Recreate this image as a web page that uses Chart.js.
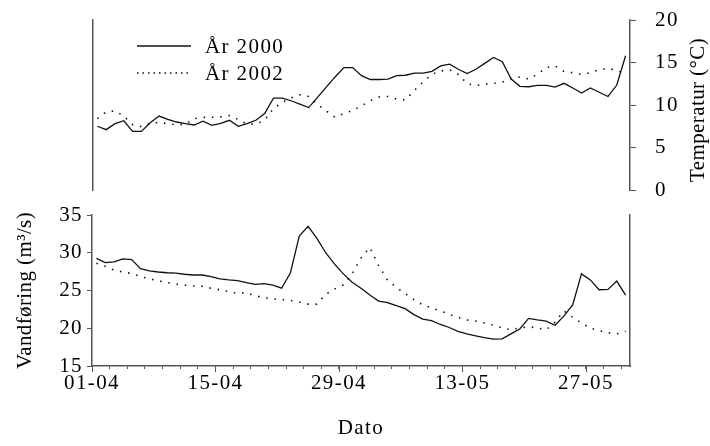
<!DOCTYPE html>
<html>
<head>
<meta charset="utf-8">
<script src="https://cdn.jsdelivr.net/npm/chart.js@4.4.1/dist/chart.umd.min.js"></script>
<style>
  html, body { margin: 0; padding: 0; background: #fff; }
  #wrap { position: relative; width: 710px; height: 446px; overflow: hidden; }
  canvas { position: absolute; left: 0; }
  #tempChart { top: 0; }
  #flowChart { top: 200px; }
</style>
</head>
<body>
<div id="wrap">
  <canvas id="tempChart" width="710" height="210"></canvas>
  <canvas id="flowChart" width="710" height="246"></canvas>
</div>
<script>
// Daily observations, 1 April - 31 May
const dates = [
  '01-04','02-04','03-04','04-04','05-04','06-04','07-04','08-04','09-04','10-04',
  '11-04','12-04','13-04','14-04','15-04','16-04','17-04','18-04','19-04','20-04',
  '21-04','22-04','23-04','24-04','25-04','26-04','27-04','28-04','29-04','30-04',
  '01-05','02-05','03-05','04-05','05-05','06-05','07-05','08-05','09-05','10-05',
  '11-05','12-05','13-05','14-05','15-05','16-05','17-05','18-05','19-05','20-05',
  '21-05','22-05','23-05','24-05','25-05','26-05','27-05','28-05','29-05','30-05','31-05'
];

// Water temperature (°C)
const temp2000 = [
  7.5, 7.1, 7.8, 8.15, 6.9, 6.9, 7.9, 8.7, 8.3, 8.0,
  7.8, 7.65, 8.1, 7.6, 7.85, 8.2, 7.5, 7.8, 8.2, 9.0,
  10.8, 10.8, 10.5, 10.1, 9.7, 10.9, 12.1, 13.3, 14.4, 14.4,
  13.45, 13.0, 13.0, 13.05, 13.45, 13.5, 13.75, 13.75, 13.95, 14.6,
  14.8, 14.2, 13.7, 14.2, 14.9, 15.6, 15.1, 13.05, 12.2, 12.15,
  12.3, 12.3, 12.1, 12.55, 12.0, 11.4, 12.0, 11.5, 11.0, 12.35, 15.8
];
const temp2002 = [
  8.4, 9.2, 9.3, 8.7, 7.7, 7.45, 7.85, 7.95, 7.8, 7.65,
  7.75, 8.4, 8.55, 8.55, 8.6, 8.75, 8.3, 7.75, 7.75, 8.2,
  9.6, 10.3, 10.85, 11.2, 11.0, 10.1, 9.3, 8.55, 9.0, 9.35,
  9.9, 10.5, 10.95, 11.0, 10.7, 10.6, 11.7, 12.7, 13.6, 14.0,
  14.15, 13.6, 12.5, 12.3, 12.45, 12.55, 12.7, 13.1, 13.3, 13.05,
  13.65, 14.4, 14.6, 13.95, 13.8, 13.6, 13.8, 14.15, 14.3, 14.1, 13.6
];

// Discharge (m³/s)
const flow2000 = [
  29.25, 28.7, 28.8, 29.2, 29.1, 27.9, 27.6, 27.45, 27.35, 27.3,
  27.15, 27.05, 27.05, 26.85, 26.55, 26.4, 26.3, 26.05, 25.8, 25.9,
  25.7, 25.3, 27.35, 32.2, 33.5, 31.9, 30.0, 28.5, 27.2, 26.1,
  25.3, 24.4, 23.6, 23.4, 23.0, 22.6, 21.8, 21.2, 21.0, 20.5,
  20.1, 19.6, 19.25, 19.0, 18.75, 18.55, 18.6, 19.25, 19.9, 21.3,
  21.1, 20.95, 20.4, 21.6, 23.1, 27.2, 26.4, 25.1, 25.15, 26.25, 24.4
];
const flow2002 = [
  28.6, 28.2, 27.7, 27.45, 27.25, 26.85, 26.55, 26.3, 26.05, 25.85,
  25.7, 25.6, 25.55, 25.3, 25.1, 24.85, 24.6, 24.7, 24.3, 24.05,
  23.9, 23.8, 23.7, 23.45, 23.2, 23.2, 24.5, 25.2, 25.75, 27.2,
  29.3, 30.7, 28.3, 26.4, 25.4, 24.6, 23.8, 23.1, 22.7, 22.3,
  21.85, 21.45, 21.1, 20.95, 20.7, 20.4, 20.05, 19.8, 20.05, 20.2,
  20.05, 19.8, 20.8, 22.3, 21.45, 20.7, 20.0, 19.7, 19.4, 19.25, 19.6
];

const seriesNames = ['År 2000', 'År 2002'];
const tickLabels = ['01-04', '15-04', '29-04', '13-05', '27-05'];
const tempRange = [0, 20, 5];
const flowRange = [15, 35, 5];

const SERIF = "'Liberation Serif', 'Times New Roman', serif";
const FONT_SIZE = 21;
const AXIS = '#555';
const INK = '#111';
const SPACING = '1.4px';

Chart.defaults.font.family = SERIF;
Chart.defaults.font.size = FONT_SIZE;
Chart.defaults.color = '#000';

// each day's mean is plotted at midday
const toPoints = vals => vals.map((v, i) => ({ x: i + 0.5, y: v }));
const dayMax = dates.length;

const solidStyle = { borderColor: INK, borderWidth: 1.3, pointRadius: 0, tension: 0, fill: false };
const dottedStyle = { borderColor: INK, borderWidth: 1.6, borderDash: [1.5, 6.8], pointRadius: 0, tension: 0, fill: false };

// slightly tracked lettering for all chart text
const lettering = {
  id: 'lettering',
  beforeDraw(chart) { chart.ctx.letterSpacing = SPACING; }
};

// legend drawn inside the temperature panel
const seriesKey = {
  id: 'seriesKey',
  afterDatasetsDraw(chart, args, opts) {
    const ctx = chart.ctx;
    chart.data.datasets.forEach((ds, i) => {
      const y = opts.y + i * opts.rowGap;
      ctx.save();
      ctx.strokeStyle = ds.borderColor;
      ctx.lineWidth = ds.borderWidth;
      ctx.setLineDash(ds.borderDash ? opts.keyDash : []);
      ctx.beginPath();
      ctx.moveTo(opts.x, y);
      ctx.lineTo(opts.x + opts.len, y);
      ctx.stroke();
      ctx.setLineDash([]);
      ctx.fillStyle = '#000';
      ctx.font = FONT_SIZE + 'px ' + SERIF;
      ctx.textBaseline = 'middle';
      ctx.fillText(ds.label, opts.x + opts.len + opts.gap, y + 1.5);
      ctx.restore();
    });
  }
};

// vertical axis titles, reading bottom to top
const sideTitle = {
  id: 'sideTitle',
  afterDraw(chart, args, opts) {
    const s = chart.scales[opts.scale];
    const ctx = chart.ctx;
    const x = opts.side === 'left' ? s.left + opts.inset : s.right - opts.inset;
    ctx.save();
    ctx.letterSpacing = opts.spacing;
    ctx.translate(x, (s.top + s.bottom) / 2 + opts.shift);
    ctx.rotate(-Math.PI / 2);
    ctx.fillStyle = '#000';
    ctx.font = FONT_SIZE + 'px ' + SERIF;
    ctx.textAlign = 'center';
    ctx.textBaseline = 'middle';
    ctx.fillText(opts.text, 0, 0);
    ctx.restore();
  }
};

// longer tick marks at the labelled dates
const majorTicks = {
  id: 'majorTicks',
  afterDraw(chart, args, opts) {
    const s = chart.scales.x;
    const ctx = chart.ctx;
    ctx.save();
    ctx.strokeStyle = AXIS;
    ctx.lineWidth = 1;
    tickLabels.forEach(lbl => {
      const px = Math.round(s.getPixelForValue(dates.indexOf(lbl))) + 0.5;
      ctx.beginPath();
      ctx.moveTo(px, s.top);
      ctx.lineTo(px, s.top + opts.length);
      ctx.stroke();
    });
    ctx.restore();
  }
};

const plainFrame = (position, width) => ({
  type: 'linear',
  position,
  ticks: { display: false },
  grid: { display: false },
  border: { color: AXIS, width: 1.5 },
  afterFit(s) { s.width = width; }
});

// fixed axis box; label overhang is covered by the layout padding
const fixedWidth = width => s => {
  s.width = width;
  s.paddingTop = 0;
  s.paddingBottom = 0;
};

new Chart(document.getElementById('tempChart'), {
  type: 'line',
  data: {
    datasets: [
      { ...solidStyle, label: seriesNames[0], data: toPoints(temp2000), yAxisID: 'temp' },
      { ...dottedStyle, label: seriesNames[1], data: toPoints(temp2002), yAxisID: 'temp' }
    ]
  },
  options: {
    responsive: false,
    animation: false,
    events: [],
    layout: { padding: { top: 20, bottom: 20, left: 0, right: 0 } },
    plugins: {
      legend: { display: false },
      tooltip: { enabled: false },
      seriesKey: { x: 137, y: 46, rowGap: 27, len: 54, gap: 14, keyDash: [1.5, 4] },
      sideTitle: { scale: 'temp', side: 'right', text: 'Temperatur (°C)', inset: 12, shift: 5, spacing: '0.4px' }
    },
    scales: {
      x: { type: 'linear', display: false, min: 0, max: dayMax },
      frame: plainFrame('left', 93),
      temp: {
        type: 'linear',
        position: 'right',
        min: tempRange[0],
        max: tempRange[1],
        ticks: { stepSize: tempRange[2], padding: 19 },
        grid: { drawOnChartArea: false, tickLength: 6, color: AXIS, tickWidth: 1 },
        border: { color: AXIS, width: 1.5 },
        afterFit: fixedWidth(80)
      }
    }
  },
  plugins: [lettering, seriesKey, sideTitle]
});

new Chart(document.getElementById('flowChart'), {
  type: 'line',
  data: {
    datasets: [
      { ...solidStyle, label: seriesNames[0], data: toPoints(flow2000), yAxisID: 'flow' },
      { ...dottedStyle, label: seriesNames[1], data: toPoints(flow2002), yAxisID: 'flow' }
    ]
  },
  options: {
    responsive: false,
    animation: false,
    events: [],
    layout: { padding: { top: 15, bottom: 0, left: 0, right: 0 } },
    plugins: {
      legend: { display: false },
      tooltip: { enabled: false },
      majorTicks: { length: 6 },
      sideTitle: { scale: 'flow', side: 'left', text: 'Vandføring (m³/s)', inset: 25, shift: 0, spacing: '0.4px' }
    },
    scales: {
      x: {
        type: 'linear',
        min: 0,
        max: dayMax,
        afterBuildTicks(s) {
          s.ticks = dates.map((d, i) => i).filter(i => i % 2 === 0).map(v => ({ value: v }));
        },
        ticks: {
          autoSkip: false,
          maxRotation: 0,
          padding: 2,
          callback: v => (tickLabels.includes(dates[v]) ? dates[v] : '')
        },
        grid: { drawOnChartArea: false, tickLength: 3, color: AXIS, tickWidth: 1 },
        border: { color: AXIS, width: 1.5 },
        title: { display: true, text: 'Dato', padding: { top: 0, bottom: 5 } },
        afterFit(s) { s.height = 80; }
      },
      flow: {
        type: 'linear',
        position: 'left',
        min: flowRange[0],
        max: flowRange[1],
        ticks: { stepSize: flowRange[2], padding: 4 },
        grid: { drawOnChartArea: false, tickLength: 5, color: AXIS, tickWidth: 1 },
        border: { color: AXIS, width: 1.5 },
        afterFit: fixedWidth(92)
      },
      frameRight: plainFrame('right', 80)
    }
  },
  plugins: [lettering, majorTicks, sideTitle]
});
</script>
</body>
</html>
